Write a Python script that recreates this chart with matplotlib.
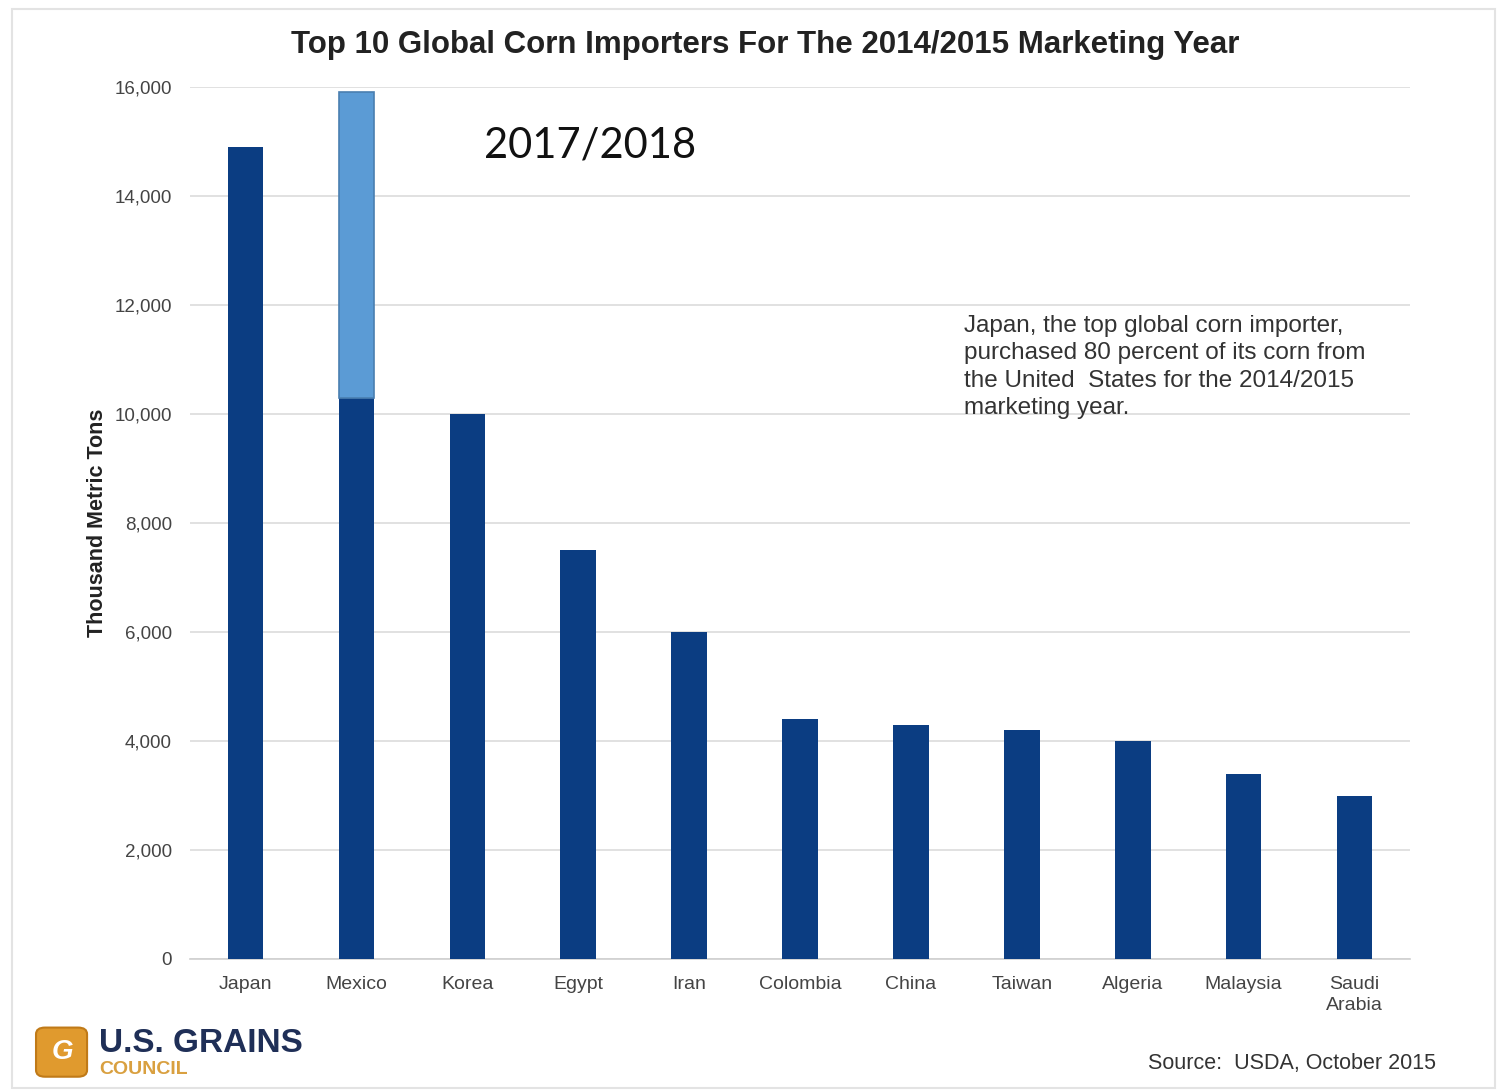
import numpy as np
import matplotlib.pyplot as plt
from matplotlib.patches import FancyBboxPatch, Rectangle

# data (thousand metric tons)
countries = ['Japan', 'Mexico', 'Korea', 'Egypt', 'Iran', 'Colombia', 'China',
             'Taiwan', 'Algeria', 'Malaysia', 'Saudi\nArabia']
imports_1415 = [14900, 10300, 10000, 7500, 6000, 4400, 4300, 4200, 4000, 3400, 3000]
mexico_1718 = 15900
yticks = [0, 2000, 4000, 6000, 8000, 10000, 12000, 14000, 16000]

dark = '#0b3d82'
light = '#5b9bd5'

plt.rcParams['font.family'] = ['Liberation Sans', 'DejaVu Sans']

fig = plt.figure(figsize=(15.01, 10.92), dpi=100)
fig.patches.append(Rectangle((0.008, 0.004), 0.988, 0.988, transform=fig.transFigure,
                             fill=False, edgecolor='#e3e3e3', linewidth=1.5))

ax = fig.add_axes([0.1266, 0.1218, 0.8128, 0.7985])
x = np.arange(len(countries))
ax.bar(x, imports_1415, width=0.32, color=dark, zorder=3)
# overlay for Mexico 2017/2018
ax.bar(x[1], mexico_1718 - imports_1415[1], bottom=imports_1415[1], width=0.31,
       color=light, edgecolor='#4a7fb0', linewidth=1.2, zorder=3)

ax.set_xlim(-0.5, len(countries) - 0.5)
ax.set_ylim(0, 16000)
ax.set_yticks(yticks)
ax.set_yticklabels([f'{v:,}' for v in yticks])
ax.set_xticks(x)
ax.set_xticklabels(countries, linespacing=1.3)
ax.tick_params(axis='y', length=0, pad=13, labelsize=13.5, labelcolor='#444444')
ax.tick_params(axis='x', length=0, pad=12, labelsize=14, labelcolor='#444444')
ax.grid(axis='y', color='#dcdcdc', linewidth=1.2, zorder=0)
for s in ['top', 'right', 'left']:
    ax.spines[s].set_visible(False)
ax.spines['bottom'].set_color('#cfcfcf')
ax.spines['bottom'].set_linewidth(1.2)

ax.set_ylabel('Thousand Metric Tons', fontsize=15.5, fontweight='bold', color='#222222', labelpad=5)

fig.text(0.51, 0.959, 'Top 10 Global Corn Importers For The 2014/2015 Marketing Year',
         ha='center', va='center', fontsize=22.5, fontweight='bold', color='#222222')
fig.text(0.393, 0.867, '2017/2018', ha='center', va='center', fontsize=30,
         family=['Lato', 'DejaVu Sans'], color='#111111')
fig.text(0.642, 0.664,
         'Japan, the top global corn importer,\npurchased 80 percent of its corn from\n'
         'the United  States for the 2014/2015\nmarketing year.',
         ha='left', va='center', fontsize=17.5, linespacing=1.32, color='#333333')
fig.text(0.957, 0.026, 'Source:  USDA, October 2015', ha='right', va='center',
         fontsize=15.5, color='#333333')

# U.S. Grains Council logo
fig.patches.append(FancyBboxPatch((0.026, 0.016), 0.03, 0.041, transform=fig.transFigure,
                                  boxstyle='round,pad=0.002,rounding_size=0.006',
                                  facecolor='#e09a2e', edgecolor='#c07a18', linewidth=1.5))
fig.text(0.0415, 0.0365, 'G', ha='center', va='center', fontsize=20, fontweight='bold',
         style='italic', color='white')
fig.text(0.066, 0.044, 'U.S. GRAINS', ha='left', va='center', fontsize=24,
         fontweight='bold', color='#1f2f57')
fig.text(0.066, 0.021, 'COUNCIL', ha='left', va='center', fontsize=14,
         fontweight='bold', color='#d9a040')

fig.savefig('out.png', dpi=100)
